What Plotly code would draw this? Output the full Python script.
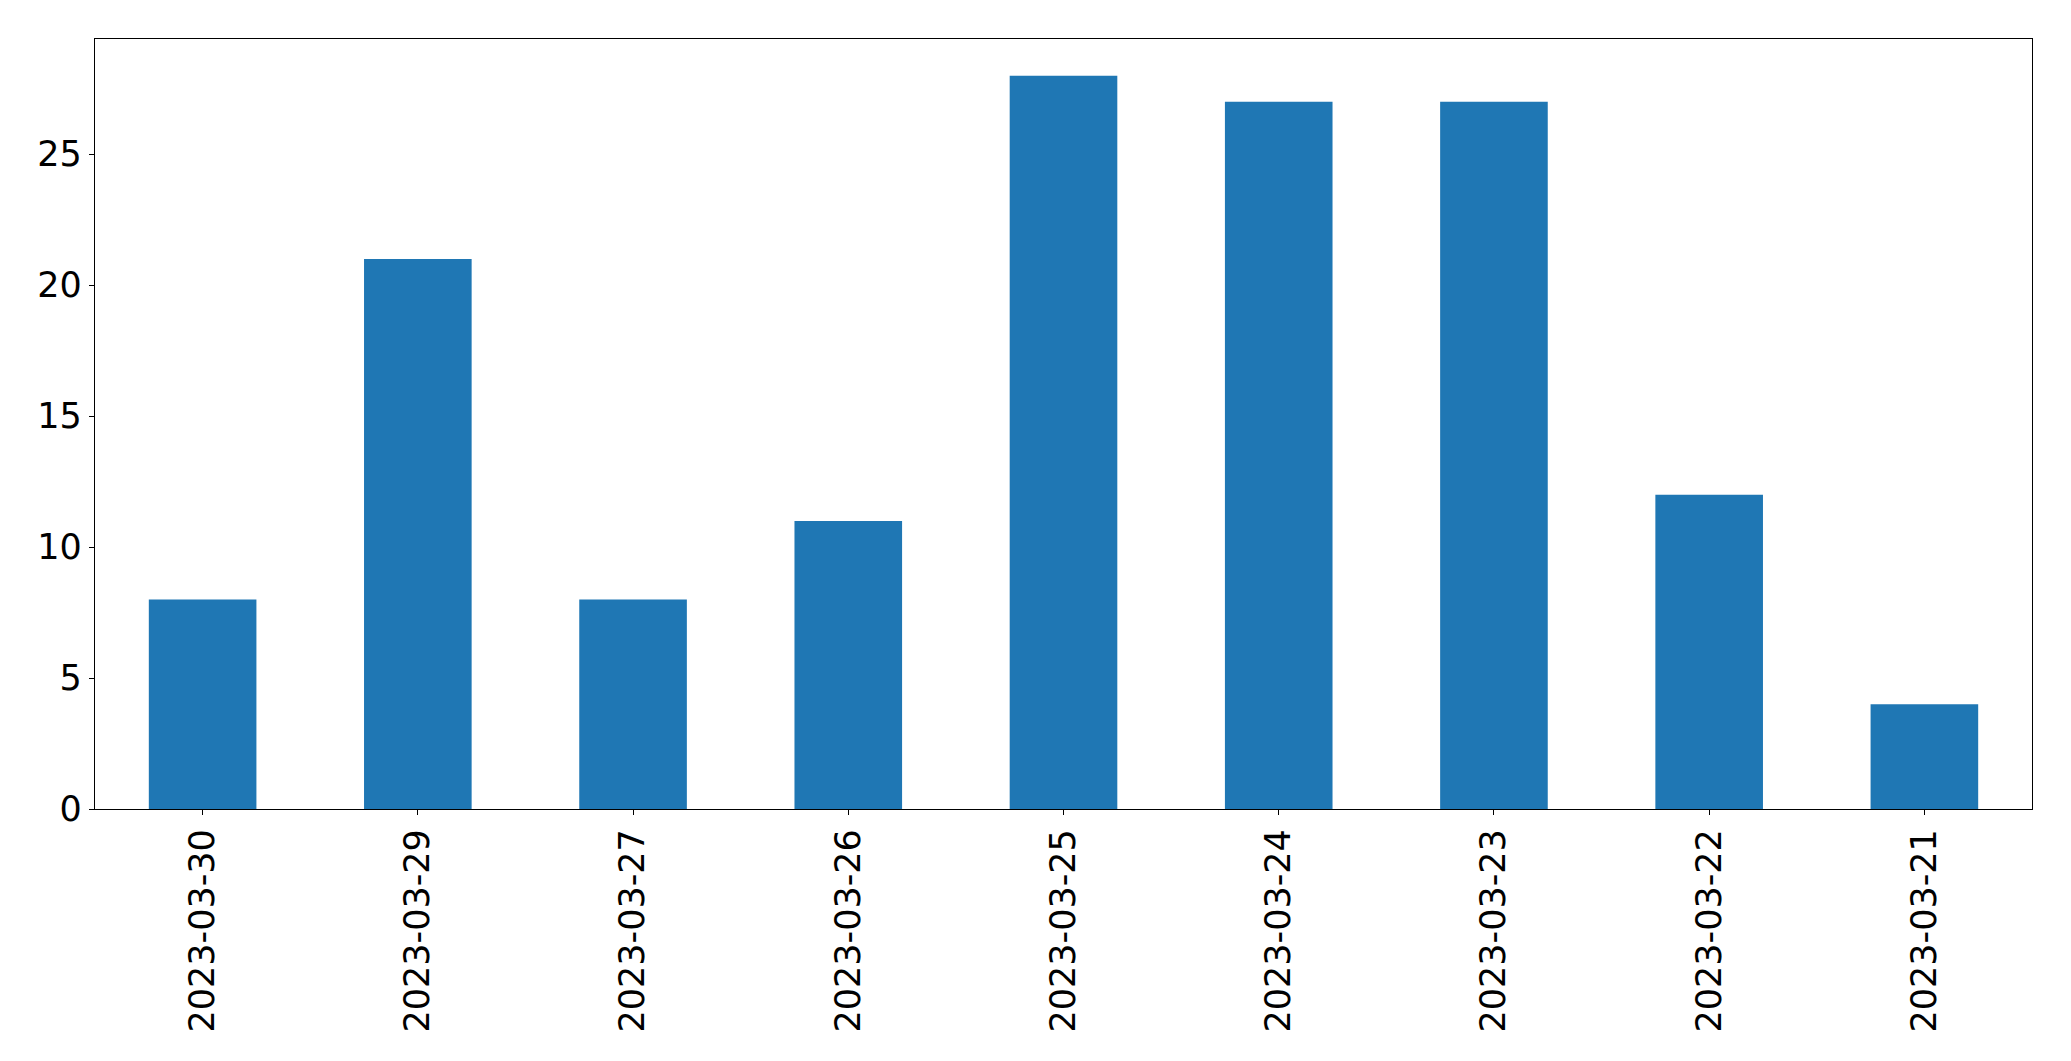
import plotly.graph_objects as go

dates = ["2023-03-30", "2023-03-29", "2023-03-27", "2023-03-26", "2023-03-25",
         "2023-03-24", "2023-03-23", "2023-03-22", "2023-03-21"]
counts = [8, 21, 8, 11, 28, 27, 27, 12, 4]
y_ticks = [0, 5, 10, 15, 20, 25]

fig = go.Figure(go.Bar(x=dates, y=counts, width=0.5, marker_color="#1f77b4",
                       marker_line_width=0))

# page body has an 8px margin; compensate
W, H = 2055, 1045
fig.update_layout(
    width=W, height=H,
    margin=dict(l=87, r=W - 2024, t=31, b=H - 801),
    paper_bgcolor="white", plot_bgcolor="white",
    font=dict(family="DejaVu Sans", size=35, color="black"),
    showlegend=False,
)
fig.update_xaxes(
    type="category", range=[-0.5, len(dates) - 0.5],
    showline=True, linecolor="black", linewidth=1.3, mirror=True,
    ticks="outside", ticklen=5, tickwidth=1.3, tickcolor="black",
    tickangle=-90, showgrid=False, zeroline=False, ticklabelstandoff=0,
)
fig.update_yaxes(
    range=[0, max(counts) * 1.05], tickvals=y_ticks,
    showline=True, linecolor="black", linewidth=1.3, mirror=True,
    ticks="outside", ticklen=5, tickwidth=1.3, tickcolor="black",
    showgrid=False, zeroline=False, ticklabelstandoff=0,
)
fig.write_html("out.html")
